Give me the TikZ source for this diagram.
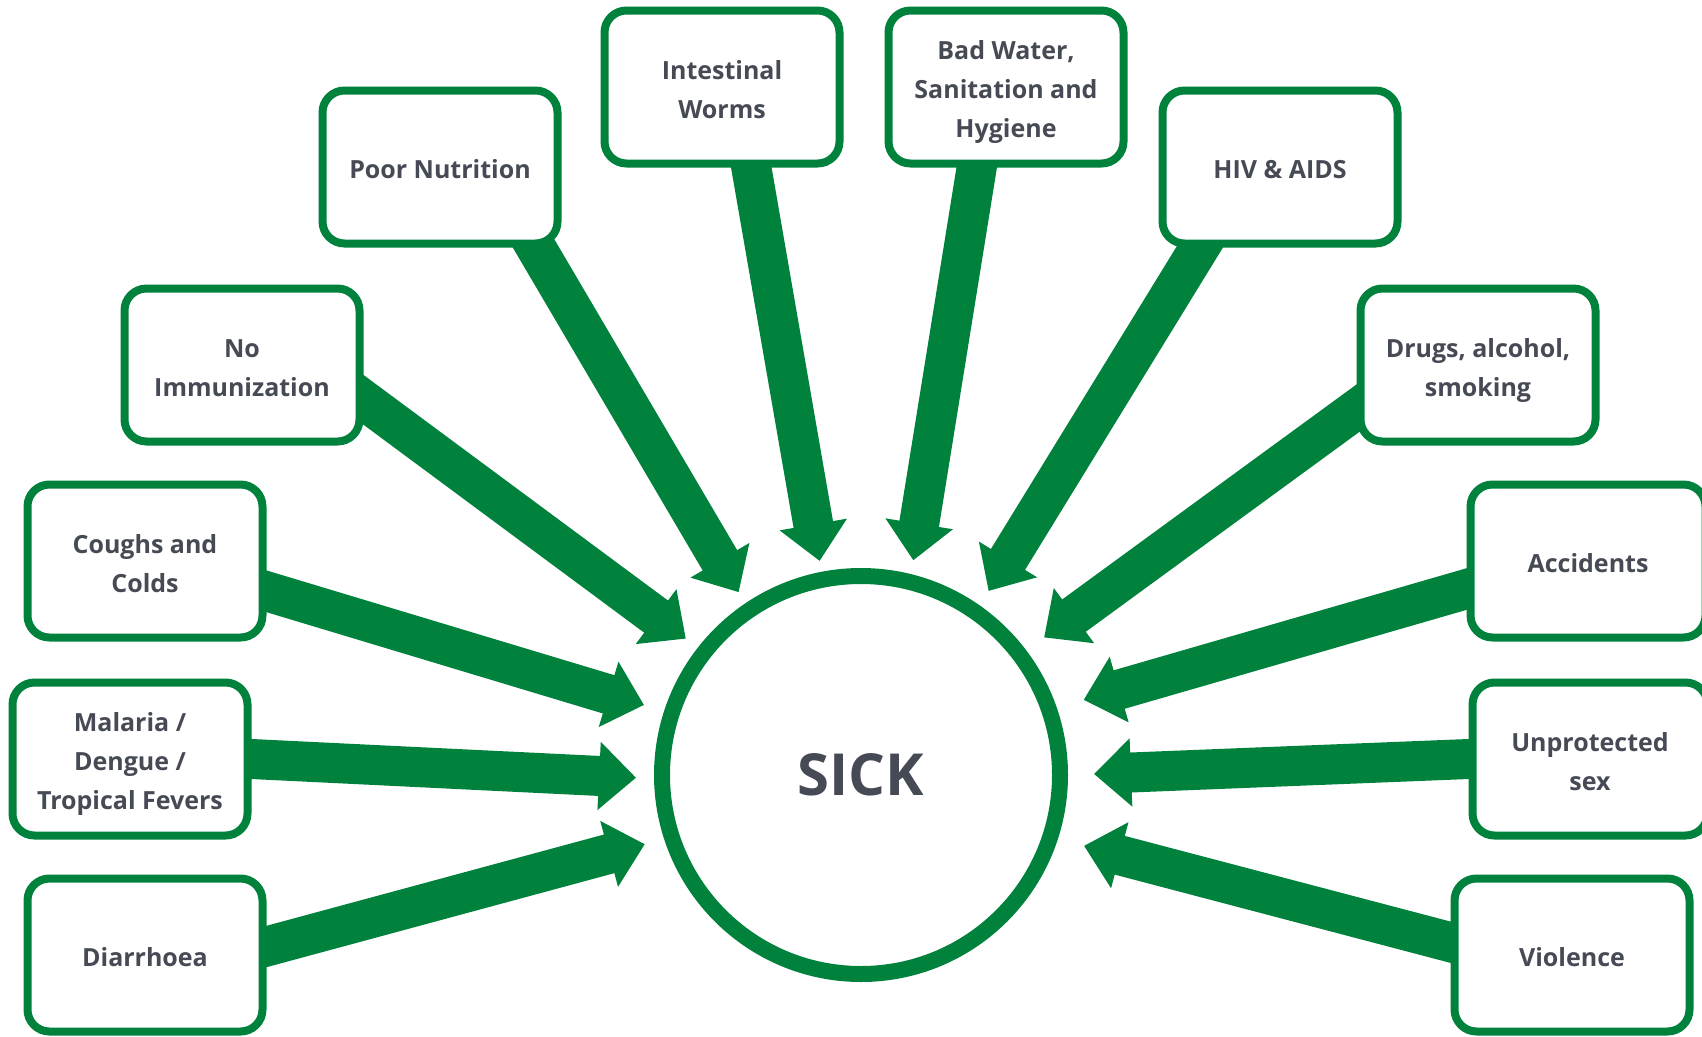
\documentclass[tikz,border=0pt]{standalone}
\usepackage{fontspec}
\setmainfont{Open Sans}
\usepackage{tikz}
\usetikzlibrary{arrows.meta, backgrounds}
\definecolor{sickgreen}{RGB}{0,130,61}
\definecolor{labelgray}{RGB}{70,74,84}
% same top and bottom extent for every box text
\newcommand{\causetext}[1]{\rule{0pt}{30pt}#1\rule[-7pt]{0pt}{7pt}}

\begin{document}
\begin{tikzpicture}[x=1pt, y=-1pt,
  causebox/.style={draw=sickgreen, line width=8pt, fill=white, rounded corners=22pt,
    minimum width=235pt, minimum height=153pt, inner sep=0pt, align=center,
    text=labelgray, font=\fontsize{25}{39}\selectfont\bfseries},
  bigarrow/.style={draw=sickgreen, line width=40pt, -{Triangle[width=66pt,length=37pt]},
    shorten <=-30pt}]
  \useasboundingbox (0,0) rectangle (1702,1036);
  % centre
  \node[circle, draw=sickgreen, line width=16pt, minimum size=398pt, inner sep=0pt,
    text=labelgray, font=\fontsize{58}{60}\selectfont\bfseries] (sick) at (861,775) {SICK};
  % causes, left side
  \node[causebox] (diarrhoea) at (145,955) {\causetext{Diarrhoea}};
  \node[causebox] (malaria) at (130,759) {\causetext{Malaria /\\Dengue /\\Tropical Fevers}};
  \node[causebox] (coughs) at (145,561) {\causetext{Coughs and\\Colds}};
  \node[causebox] (immun) at (242,365) {\causetext{No\\Immunization}};
  \node[causebox] (nutrition) at (440,167) {\causetext{Poor Nutrition}};
  \node[causebox] (worms) at (722,87) {\causetext{Intestinal\\Worms}};
  % causes, right side
  \node[causebox] (water) at (1006,87) {\causetext{Bad Water,\\Sanitation and\\Hygiene}};
  \node[causebox] (hiv) at (1280,167) {\causetext{HIV \& AIDS}};
  \node[causebox] (drugs) at (1478,365) {\causetext{Drugs, alcohol,\\smoking}};
  \node[causebox] (accidents) at (1588,561) {\causetext{Accidents}};
  \node[causebox] (unprotected) at (1590,759) {\causetext{Unprotected\\sex}};
  \node[causebox] (violence) at (1572,955) {\causetext{Violence}};
  % arrows behind the boxes: box anchor / circle anchor / gap
  \begin{pgfonlayer}{background}
    \foreach \b/\a/\t/\s in {diarrhoea/4/198/20, malaria/0/181/18, coughs/-14/162/21,
        immun/-16/142/15, nutrition/-40/124/13, worms/-70/101/11, water/-110/76/14,
        hiv/-135/55/17, drugs/-160/37/22, accidents/-167/19/28,
        unprotected/180/0/26, violence/174/-18/27}
      \draw[bigarrow, shorten >=\s pt] (\b.\a) -- (sick.\t);
  \end{pgfonlayer}
\end{tikzpicture}
\end{document}
